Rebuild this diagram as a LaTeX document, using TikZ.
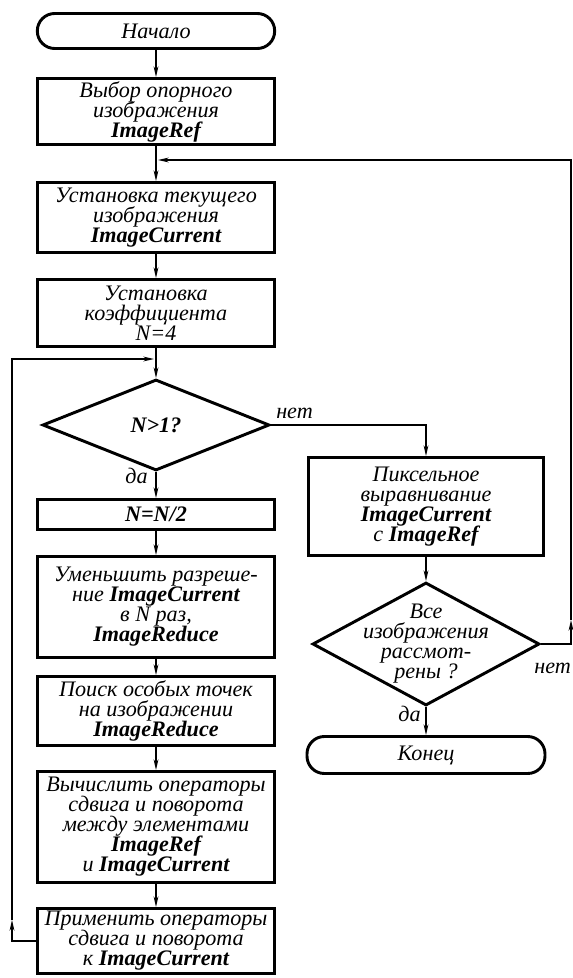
\documentclass[tikz,border=0pt]{standalone}
\usepackage{fontspec}
\setmainfont{Liberation Serif}
\usetikzlibrary{shapes.geometric,arrows.meta}
\newcommand{\basefs}{\fontsize{16.6}{15}\selectfont\lineskiplimit=-30pt\relax}
\newcommand{\bnm}[1]{{\bfseries #1}}
\begin{document}
\begin{tikzpicture}[x=0.75pt,y=-0.75pt]
\tikzset{
 blk/.style={draw, line width=2.2pt, rectangle, inner sep=0pt, align=center, font=\basefs\itshape, minimum width=178pt},
 term/.style={blk, rounded corners=13pt},
 dec/.style={draw, line width=2.2pt, diamond, inner sep=0pt},
 conn/.style={line width=1.1pt, -{Stealth[length=8pt,width=3.6pt]}},
 lbl/.style={font=\basefs\itshape, inner sep=0pt, align=center}
}
\useasboundingbox (0,0) rectangle (572,978);

% main column
\node[term, minimum height=26.25pt] (start) at (156,31) {Начало};
\node[blk, minimum height=49.5pt] (b1) at (156,111.5) {Выбор опорного\\изображения\\\bnm{ImageRef}};
\node[blk, minimum height=52.5pt] (b2) at (156,217.5) {Установка текущего\\изображения\\\bnm{ImageCurrent}};
\node[blk, minimum height=50.25pt] (b3) at (156,313) {Установка\\коэффициента\\N=4};
\node[dec, minimum width=170.25pt, minimum height=68.25pt] (d1) at (156,425) {};
\node[lbl] (d1t) at (d1.center) {\bfseries N>1?};
\node[blk, minimum height=22.5pt] (b4) at (156,514.5) {\bnm{N=N/2}};
\node[blk, minimum height=75.75pt] (b5) at (156,607) {Уменьшить разреше-\\ние \bnm{ImageCurrent}\\в N раз,\\\bnm{ImageReduce}};
\node[blk, minimum height=51.75pt] (b6) at (156,711) {Поиск особых точек\\на изображении\\\bnm{ImageReduce}};
\node[blk, minimum height=83.25pt] (b7) at (156,827) {Вычислить операторы\\сдвига и поворота\\между элементами\\\bnm{ImageRef}\\и \bnm{ImageCurrent}};
\node[blk, minimum height=48.75pt] (b8) at (156,941) {Применить операторы\\сдвига и поворота\\к \bnm{ImageCurrent}};

% right column
\node[blk, minimum width=176.25pt, minimum height=73.5pt] (pb) at (426,506.5) {Пиксельное\\выравнивание\\\bnm{ImageCurrent}\\с \bnm{ImageRef}};
\node[dec, minimum width=170.25pt, minimum height=92.25pt] (d2) at (426,644) {};
\node[lbl] (d2t) at (d2.center) {Все\\изображения\\рассмот-\\рены ?};
\node[term, minimum width=178.5pt, minimum height=27.75pt] (end) at (426,755) {Конец};

% labels
\node[lbl, anchor=base west] (no1) at (276,418) {нет};
\node[lbl, anchor=base east] (yes1) at (148,483) {да};
\node[lbl, anchor=base west] (no2) at (534,673) {нет};
\node[lbl, anchor=base east] (yes2) at (421,721) {да};

% straight connectors
\draw[conn] (start.south) -- (b1.north);
\draw[conn] (b1.south) -- (b2.north);
\draw[conn] (b2.south) -- (b3.north);
\draw[conn] (b3.south) -- (d1.north);
\draw[conn] (d1.south) -- (b4.north);
\draw[conn] (b4.south) -- (b5.north);
\draw[conn] (b5.south) -- (b6.north);
\draw[conn] (b6.south) -- (b7.north);
\draw[conn] (b7.south) -- (b8.north);
\draw[conn] (d1.east) -| (pb.north);
\draw[conn] (pb.south) -- (d2.north);
\draw[conn] (d2.south) -- (end.north);

% right loop
\coordinate (r1) at (571,620);
\coordinate (r2) at (158,160);
\draw[conn] (d2.east) -| (r1);
\draw[conn] (r1) |- (r2);

% left loop
\coordinate (l1) at (12,920);
\coordinate (l2) at (154,359);
\draw[conn] (b8.west) -| (l1);
\draw[conn] (l1) |- (l2);
\end{tikzpicture}
\end{document}
